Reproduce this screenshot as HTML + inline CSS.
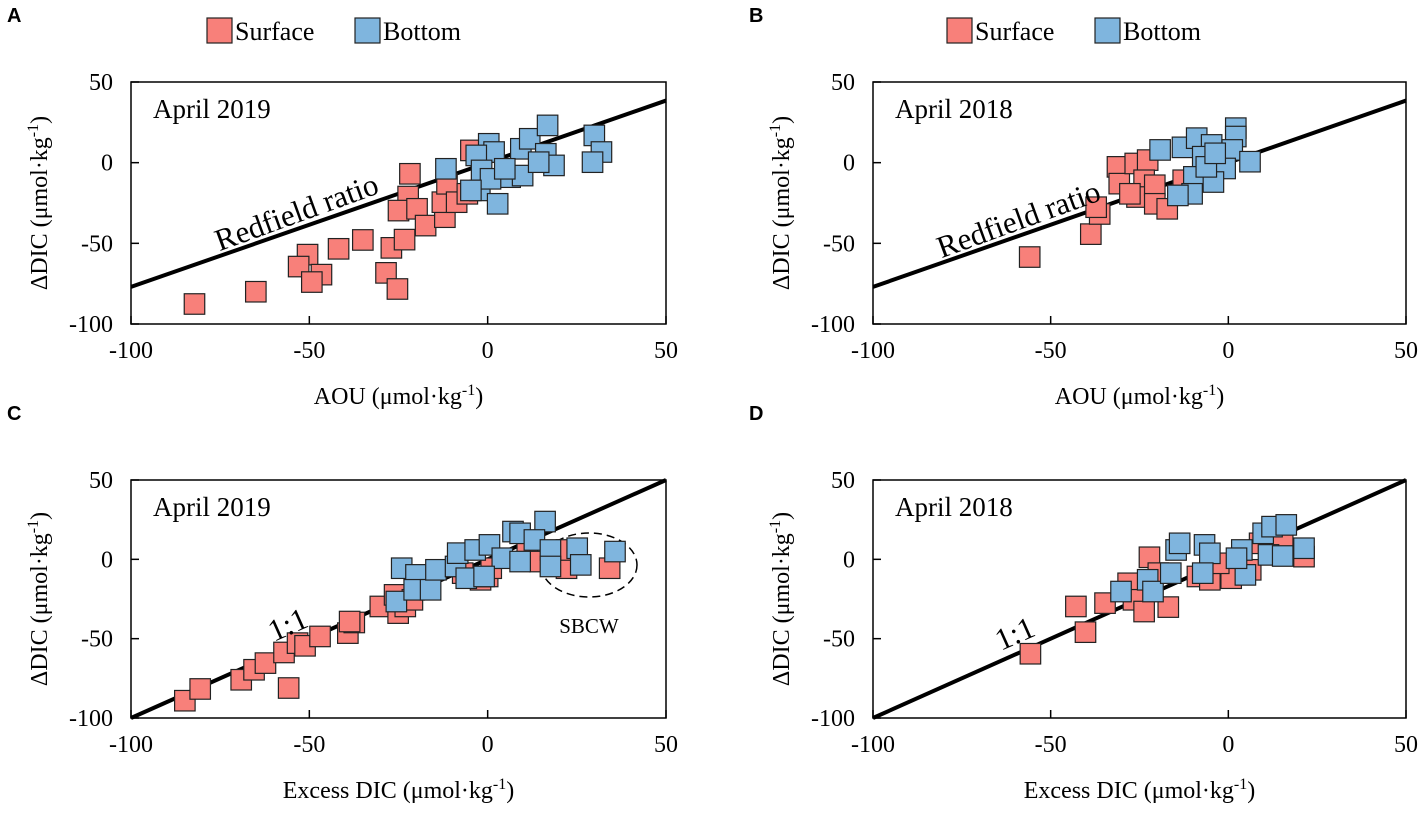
<!DOCTYPE html>
<html><head><meta charset="utf-8"><style>
body{margin:0;background:#fff;width:1418px;height:818px;overflow:hidden}
svg{display:block;font-family:"Liberation Serif",serif}
</style></head><body>
<svg id="fig" width="1418" height="818" viewBox="0 0 1418 818" xmlns="http://www.w3.org/2000/svg"></svg>
<script>
const xTicks=[-100,-50,0,50];
const yTicks=[50,0,-50,-100];
const aSurfX=[-82.2,-65,-50.5,-53,-46.6,-49.3,-41.8,-35,-27,-28.5,-25.3,-23.3,-21.8,-22.3,-25,-19.8,-17.4,-12,-12.7,-11.4,-8.7,-4.7,-5.7];
const aSurfY=[-87.6,-80,-57,-64.4,-69.4,-74,-53.4,-47.9,-52.8,-68.3,-78.3,-47.7,-6.9,-21,-29.7,-28.6,-39,-33.8,-24.5,-13.1,-24.5,7.6,-19.3];
const aBotX=[-11.7,0.3,1.8,-3.2,-1.7,-2.2,2.8,6.3,9.3,11.8,16.8,16.3,18.6,9.8,29.9,31.9,29.4,0.8,-4.7,4.8,14.3];
const aBotY=[-3.8,11.7,6.6,4.5,-4.8,-17.2,-25.5,-9,8.6,14.8,23.1,5.5,-1.7,-8,16.9,6.6,0.3,-10,-17.2,-3.8,0.3];
const bSurfX=[-55.9,-38.7,-36.2,-37.2,-31.2,-30.7,-26.2,-22.7,-23.7,-25.7,-20.7,-20.7,-17.2,-27.7,-12.7];
const bSurfY=[-58.5,-44.3,-31.8,-27.6,-2.6,-13,-0.5,1.6,-10.9,-21.3,-14,-25.5,-28.6,-19.3,-10.9];
const bBotX=[-19.2,-12.9,-8.9,-4.7,-7.2,2.1,2.1,1.1,-0.9,6.1,-9.7,-4.2,-10.2,-14.2,-6.2,-3.7];
const bBotY=[7.9,9.5,15.2,11,3.7,21.4,16.2,7.9,-3.6,0.6,-8.8,-12,-19.3,-20.3,-2.6,5.8];
const cSurfX=[-84.9,-80.6,-69.1,-65.5,-62.3,-57.1,-55.8,-53.3,-51.2,-47,-39.2,-37.4,-38.7,-30.1,-25.1,-23.1,-26.1,-21.1,-2,0,1,-7,11.1,22.1,22.1,34.2,14.6];
const cSurfY=[-89.1,-81.7,-75.9,-69.6,-65.4,-58.7,-81.1,-52.8,-54.5,-48.6,-46.5,-39.8,-39.2,-29.7,-33.9,-29.7,-22.4,-25.5,-12.9,-10.8,-5.6,-8.7,5.9,-5.6,5.9,-5.6,-1.4];
const cBotX=[-24.1,-20.1,-25.6,-20.6,-16,-14.5,-9,-8.4,-3.5,0.5,4.1,-6,-1,7.1,9.1,16.1,13.1,9.1,17.6,17.6,25.1,26.1,35.7];
const cBotY=[-5.6,-9.8,-26.6,-19.2,-19.2,-6.6,-4.5,3.9,5.9,9.1,0.7,-11.9,-10.8,17.5,16.4,23.8,12.2,-1.4,5.9,-4.5,7,-3.5,4.9];
const dSurfX=[-55.7,-40.2,-42.9,-34.7,-28.2,-26.7,-23.7,-22.2,-16.9,-19.7,-8.7,-5.2,0.8,6.3,15.3,21.3,8.8,-2.7];
const dSurfY=[-59.5,-45.9,-29.7,-27.6,-15.1,-25.5,-32.9,1.3,-30.1,-8.7,-10.8,-12.9,-11.9,-6.6,11.2,1.7,10.1,-2.5];
const dBotX=[-30.2,-22.7,-21.2,-16.2,-14.7,-13.7,-6.7,-5.2,-7.2,3.8,4.8,9.8,12.3,16.3,11.3,15.3,21.3,2.3];
const dBotY=[-20.3,-12.9,-20.3,-8.7,5.9,10.1,9.1,3.8,-8.7,5.9,-9.8,16.4,20.6,21.7,2.8,2.1,7,0.7];
const redfieldSlope=0.77, oneSlope=1;

const NS="http://www.w3.org/2000/svg";
const svg=document.getElementById('fig');
function mk(tag,attrs,parent,text){const e=document.createElementNS(NS,tag);for(const k in attrs)e.setAttribute(k,attrs[k]);if(text!==undefined)e.textContent=text;(parent||svg).appendChild(e);return e;}
const SURF="#f8807a", BOT="#7fb5de";
const MS=20.5;
function panel(o){
  const g=mk('g',{});
  
  
  const X=v=>o.x0+(v+100)/150*(o.x1-o.x0);
  const Y=v=>o.y1-(v+100)/150*(o.y1-o.y0);
  const ln=mk('line',{x1:X(-100),y1:Y(-100*o.slope),x2:X(50),y2:Y(50*o.slope),stroke:'#000','stroke-width':4},g);
  
  
  if(o.ellipse){const el=mk('ellipse',{cx:589,cy:565,rx:48,ry:32,fill:'none',stroke:'#000','stroke-width':1.5,'stroke-dasharray':'8,5'},g);
    
    
    const t=mk('text',{x:589,y:633,'font-size':21,'text-anchor':'middle'},g,'SBCW');
    
    }
  function pts(xs,ys,col,nm){xs.forEach((v,i)=>{const r=mk('rect',{x:X(v)-MS/2,y:Y(ys[i])-MS/2,width:MS,height:MS,fill:col,stroke:'#222','stroke-width':1.2},g);
    
    });}
  pts(o.sx,o.sy,SURF,'surface-point');
  pts(o.bx,o.by,BOT,'bottom-point');
  const fr=mk('rect',{x:o.x0,y:o.y0,width:o.x1-o.x0,height:o.y1-o.y0,fill:'none',stroke:'#000','stroke-width':1.5},g);
  
  
  yTicks.forEach(v=>{mk('line',{x1:o.x0,x2:o.x0+8,y1:Y(v),y2:Y(v),stroke:'#000','stroke-width':1.5},g);
    const t=mk('text',{x:o.x0-18,y:Y(v)+8,'font-size':24,'text-anchor':'end'},g,String(v));
    
    });
  xTicks.forEach(v=>{mk('line',{x1:X(v),x2:X(v),y1:o.y1,y2:o.y1-8,stroke:'#000','stroke-width':1.5},g);
    const t=mk('text',{x:X(v),y:o.y1+34,'font-size':24,'text-anchor':'middle'},g,String(v));
    
    });
  const yl=mk('text',{x:0,y:0,'font-size':24,'text-anchor':'middle',transform:`translate(${o.x0-84},${(o.y0+o.y1)/2}) rotate(-90)`},g);
  
  
  yl.innerHTML='ΔDIC (μmol·kg<tspan dy="-9" font-size="16">-1</tspan><tspan dy="9">)</tspan>';
  const xl=mk('text',{x:(o.x0+o.x1)/2,y:o.y1+80,'font-size':24,'text-anchor':'middle'},g);
  
  
  xl.innerHTML=o.xt+' (μmol·kg<tspan dy="-9" font-size="16">-1</tspan><tspan dy="9">)</tspan>';
  const dt=mk('text',{x:o.x0+22,y:o.y0+36,'font-size':27},g,o.date);
  
  
  const lt=mk('text',{x:o.lx,y:o.ly,'font-size':o.lfs,'text-anchor':'middle',transform:`rotate(${o.rot} ${o.lx} ${o.ly})`},g,o.lab);
  
  
  const pl=mk('text',{x:o.x0-124,y:o.y0-60,'font-size':20,'font-weight':'bold','font-family':'Liberation Sans, sans-serif'},g,o.letter);
  
  
}
panel({name:'panel-a',x0:131,x1:666,y0:82,y1:324,slope:redfieldSlope,sx:aSurfX,sy:aSurfY,bx:aBotX,by:aBotY,xt:'AOU',date:'April 2019',lab:'Redfield ratio',lx:300,ly:222,rot:-20,lfs:31,letter:'A'});
panel({name:'panel-b',x0:873,x1:1406,y0:82,y1:324,slope:redfieldSlope,sx:bSurfX,sy:bSurfY,bx:bBotX,by:bBotY,xt:'AOU',date:'April 2018',lab:'Redfield ratio',lx:1022,ly:229,rot:-20,lfs:31,letter:'B'});
panel({name:'panel-c',x0:131,x1:666,y0:480,y1:718,slope:oneSlope,sx:cSurfX,sy:cSurfY,bx:cBotX,by:cBotY,xt:'Excess DIC',date:'April 2019',lab:'1:1',lx:292,ly:634,rot:-24,lfs:31,letter:'C',ellipse:true});
panel({name:'panel-d',x0:873,x1:1406,y0:480,y1:718,slope:oneSlope,sx:dSurfX,sy:dSurfY,bx:dBotX,by:dBotY,xt:'Excess DIC',date:'April 2018',lab:'1:1',lx:1019,ly:643,rot:-24,lfs:31,letter:'D'});
[[207,'legend-a'],[947,'legend-b']].forEach(([lx,nm])=>{
  const g=mk('g',{});
  
  
  mk('rect',{x:lx,y:18,width:25,height:25,fill:SURF,stroke:'#222','stroke-width':1.2},g);
  mk('text',{x:lx+28,y:40,'font-size':26},g,'Surface');
  mk('rect',{x:lx+148,y:18,width:25,height:25,fill:BOT,stroke:'#222','stroke-width':1.2},g);
  mk('text',{x:lx+176,y:40,'font-size':26},g,'Bottom');
});
</script>
</body></html>
